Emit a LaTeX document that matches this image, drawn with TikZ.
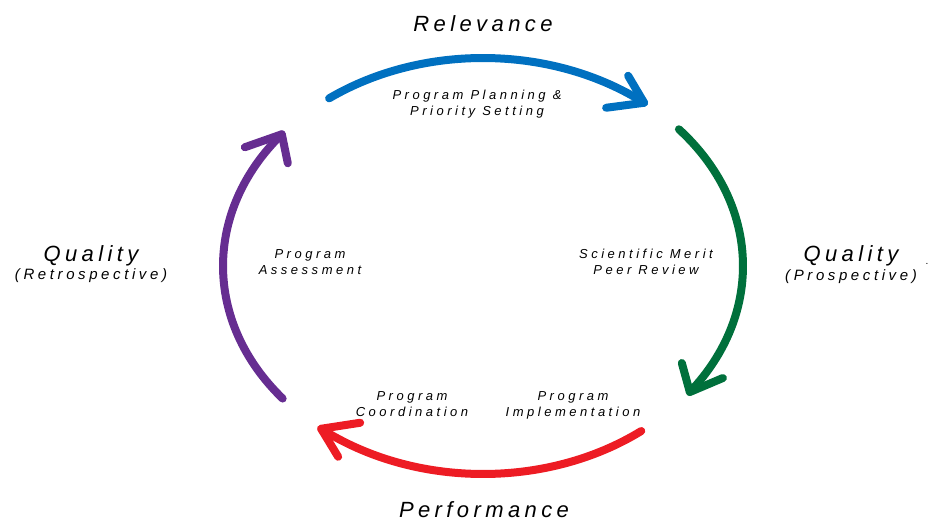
\documentclass[tikz,border=0pt]{standalone}
\usepackage{fontspec}
\setmainfont{Liberation Sans}
\newfontfamily\bigfont[LetterSpace=20]{Liberation Sans}
\newfontfamily\smallfont[LetterSpace=27]{Liberation Sans}
\newfontfamily\subfont[LetterSpace=24]{Liberation Sans}
\definecolor{cblue}{RGB}{0,112,192}
\definecolor{cgreen}{RGB}{0,112,60}
\definecolor{cred}{RGB}{237,28,36}
\definecolor{cpurple}{RGB}{102,45,145}
\begin{document}
\begin{tikzpicture}[x=1pt,y=-1pt,
  stroke/.style={line width=8pt, line cap=round, line join=round},
  title/.style={font=\bigfont\itshape\fontsize{22}{26}\selectfont, inner sep=0pt},
  sub/.style={font=\subfont\itshape\fontsize{15}{18}\selectfont, inner sep=0pt},
  lab/.style={font=\smallfont\itshape\fontsize{13}{16}\selectfont, align=center, inner sep=0pt}]
\useasboundingbox (0,0) rectangle (930,521);
\coordinate (c) at (483,266);

% blue
\draw[stroke, cblue] (c) ++(-126.3:260 and 208) arc[start angle=-126.3, end angle=-51.7, x radius=260, y radius=208] coordinate (bE);
\draw[stroke, cblue] (bE) ++(-16,-27) -- (bE) -- ++(-38,5);
% green
\draw[stroke, cgreen] (c) ++(-41.1:260 and 208) arc[start angle=-41.1, end angle=37.3, x radius=260, y radius=208] coordinate (gE);
\draw[stroke, cgreen] (gE) ++(-8,-29) -- (gE) -- ++(33,-14);
% red
\draw[stroke, cred] (c) ++(52.5:260 and 208) arc[start angle=52.5, end angle=128.5, x radius=260, y radius=208] coordinate (rE);
\draw[stroke, cred] (rE) ++(39,-6) -- (rE) -- ++(17,28);
% purple
\draw[stroke, cpurple] (c) ++(140.4:260 and 208) arc[start angle=140.4, end angle=219.3, x radius=260, y radius=208] coordinate (pE);
\draw[stroke, cpurple] (pE) ++(-37,13) -- (pE) -- ++(6,29);

% titles
\node[title] (relevance) at (483,24) {Relevance};
\node[title] (performance) at (484,510) {Performance};
\node[title] (qualR) at (851,256) {Quality};
\node[sub] (prosp) at (851,277) {(Prospective)};
\node[inner sep=0pt, font=\fontsize{10}{12}\selectfont] (dot) at (927,264) {.};
\node[title] (qualL) at (91,256) {Quality};
\node[sub] (retro) at (91,276) {(Retrospective)};

% labels
\node[lab] (planning) at (477,104) {Program Planning \&\\Priority Setting};
\node[lab] (merit) at (646,262) {Scientific Merit\\Peer Review};
\node[lab] (assess) at (310,262) {Program\\Assessment};
\node[lab] (coord) at (412,404) {Program\\Coordination};
\node[lab] (impl) at (573,405) {Program\\Implementation};
\end{tikzpicture}
\end{document}
